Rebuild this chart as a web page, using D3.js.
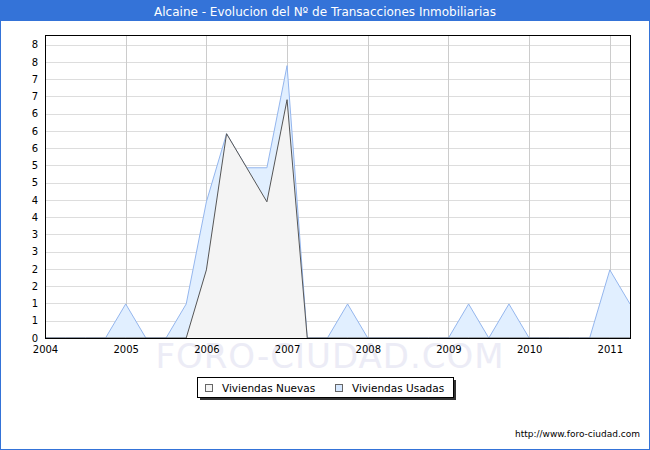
<!DOCTYPE html>
<html><head><meta charset="utf-8">
<script src="https://cdn.jsdelivr.net/npm/d3@7"></script>
<style>body{margin:0;background:#fff}svg{display:block}</style>
</head><body>
<svg id="c" width="650" height="450"></svg>
<script>
const title = "Alcaine - Evolucion del Nº de Transacciones Inmobiliarias";
const quarters = [2004,2004.25,2004.5,2004.75,2005,2005.25,2005.5,2005.75,2006,2006.25,2006.5,2006.75,2007,2007.25,2007.5,2007.75,2008,2008.25,2008.5,2008.75,2009,2009.25,2009.5,2009.75,2010,2010.25,2010.5,2010.75,2011,2011.25];
const nuevas = [0,0,0,0,0,0,0,0,2,6,5,4,7,0,0,0,0,0,0,0,0,0,0,0,0,0,0,0,0,0];
const usadas = [0,0,0,0,1,0,0,1,4,6,5,5,8,0,0,1,0,0,0,0,0,1,0,1,0,0,0,0,2,1];
const yearTicks = [2004,2005,2006,2007,2008,2009,2010,2011];
const yTickLabels = ["0","1","1","2","2","3","3","4","4","5","5","6","6","6","7","7","8","8"];
const yTickStep = 0.507;
const seriesNames = ["Viviendas Nuevas","Viviendas Usadas"];

const svg = d3.select("#c");
const W = 650, H = 450;
const m = {l:45, r:630, t:35, b:338};

// frame + title bar
svg.append("rect").attr("x",0.5).attr("y",0.5).attr("width",W-1).attr("height",H-1)
  .attr("fill","#fff").attr("stroke","#3473d8");
svg.append("rect").attr("x",0).attr("y",0).attr("width",W).attr("height",21).attr("fill","#3473d8");
svg.append("text").attr("x",W/2).attr("y",15.5).attr("text-anchor","middle")
  .attr("font-family","DejaVu Sans").attr("font-size",12).attr("fill","#fff").text(title);

const x = d3.scaleLinear().domain([2004, 2011.25]).range([m.l, m.r]);
const y = d3.scaleLinear().domain([0, 8.9]).range([m.b, m.t]);

// watermark
svg.append("text").attr("x",330).attr("y",368).attr("text-anchor","middle")
  .attr("font-family","DejaVu Sans").attr("font-size",34).attr("fill","#ececf6")
  .attr("letter-spacing",1).text("FORO-CIUDAD.COM");

// grid
const yVals = yTickLabels.map((d,i)=>i*yTickStep);
const g = svg.append("g");
g.selectAll(".hg").data(yVals.slice(1)).join("line")
  .attr("x1",m.l).attr("x2",m.r)
  .attr("y1",d=>Math.round(y(d))+0.5).attr("y2",d=>Math.round(y(d))+0.5)
  .attr("stroke","#dddddd");
g.selectAll(".vg").data(yearTicks.slice(1)).join("line")
  .attr("y1",m.t).attr("y2",m.b)
  .attr("x1",d=>Math.round(x(d))+0.5).attr("x2",d=>Math.round(x(d))+0.5)
  .attr("stroke","#cccccc");

// areas
const pts = a => a.map((v,i)=>[quarters[i], v]);
const area = d3.area().x(d=>x(d[0])).y0(y(0)).y1(d=>y(d[1]));
const line = d3.line().x(d=>x(d[0])).y(d=>y(d[1]));
svg.append("path").datum(pts(usadas)).attr("d",area).attr("fill","#e1efff");
svg.append("path").datum(pts(usadas)).attr("d",line).attr("fill","none").attr("stroke","#94b6ee").attr("stroke-width",1);
svg.append("path").datum(pts(nuevas)).attr("d",area).attr("fill","#f4f4f4");
svg.append("path").datum(pts(nuevas)).attr("d",line).attr("fill","none").attr("stroke","#555555").attr("stroke-width",1);

// plot border
svg.append("rect").attr("x",m.l+0.5).attr("y",m.t+0.5).attr("width",m.r-m.l).attr("height",m.b-m.t)
  .attr("fill","none").attr("stroke","#000");

// axes
const yAxis = d3.axisLeft(y).tickValues(yVals).tickSize(0).tickPadding(7)
  .tickFormat((d,i)=>yTickLabels[i]);
const ya = svg.append("g").attr("transform",`translate(${m.l},0)`).call(yAxis);
ya.select(".domain").remove();
ya.selectAll("text").attr("font-family","DejaVu Sans").attr("font-size",10).attr("fill","#000");

const xAxis = d3.axisBottom(x).tickValues(yearTicks).tickSize(0).tickPadding(8).tickFormat(d3.format("d"));
const xa = svg.append("g").attr("transform",`translate(0,${m.b})`).call(xAxis);
xa.select(".domain").remove();
xa.selectAll("text").attr("font-family","DejaVu Sans").attr("font-size",10).attr("fill","#000");

// legend
const lg = svg.append("g");
lg.append("rect").attr("x",200).attr("y",380).attr("width",256).attr("height",20).attr("fill","#333");
lg.append("rect").attr("x",197.5).attr("y",377.5).attr("width",256).attr("height",20).attr("fill","#fff").attr("stroke","#000");
const sw = [{c:"#f4f4f4",x:205,tx:222},{c:"#d6e8ff",x:335,tx:352}];
sw.forEach((s,i)=>{
  lg.append("rect").attr("x",s.x+0.5).attr("y",384.5).attr("width",7).attr("height",7).attr("fill",s.c).attr("stroke","#666");
  lg.append("text").attr("x",s.tx).attr("y",392).attr("font-family","DejaVu Sans").attr("font-size",10.5).attr("fill","#000").text(seriesNames[i]);
});

// footer
svg.append("text").attr("x",640).attr("y",437).attr("text-anchor","end")
  .attr("font-family","DejaVu Sans").attr("font-size",9).attr("fill","#000").text("http://www.foro-ciudad.com");
</script>
</body></html>
